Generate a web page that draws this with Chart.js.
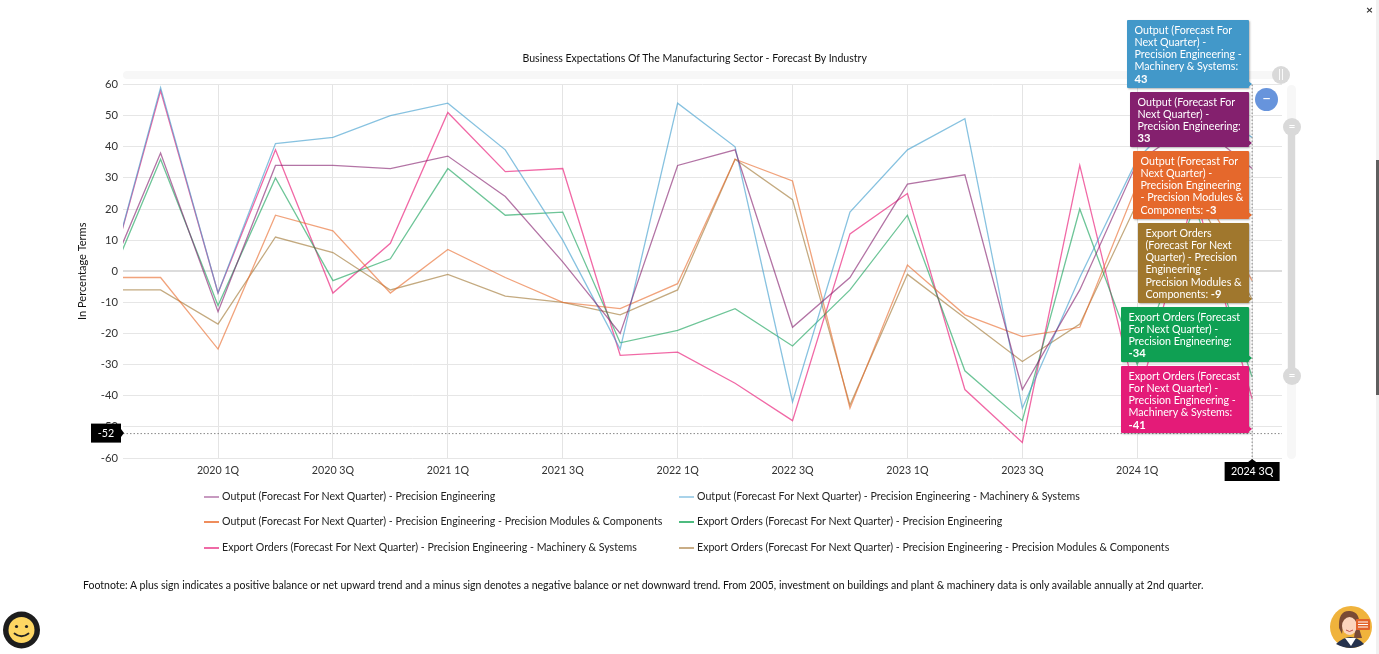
<!DOCTYPE html>
<html><head><meta charset="utf-8">
<script src="https://cdn.jsdelivr.net/npm/chart.js@4/dist/chart.umd.min.js"></script>
<style>
html,body{margin:0;padding:0;background:#fff;width:1379px;height:654px;overflow:hidden;font-family:Lato,sans-serif;color:#222}
#c{position:absolute;left:0;top:0}
.t{position:absolute;white-space:nowrap;font-size:10.6px}
.lg{position:absolute;height:1.5px;width:15px}
.tip{position:absolute;color:#fff;font-size:10.7px;line-height:12.25px;padding:3.5px 0 0 7.5px;box-sizing:border-box;box-shadow:1px 1px 2px rgba(0,0,0,.3);white-space:pre;border-radius:1px}
.tip b{font-weight:700;font-size:11.2px}
.tip i{position:absolute;bottom:0;right:-3px;width:0;height:0;border-left:5px solid;border-top:4px solid transparent;border-bottom:4px solid transparent}
.bar{position:absolute;background:#f7f7f7;border-radius:5px}
.grip{position:absolute;background:#d9d9d9;border-radius:50%;width:18px;height:18px;color:#fff;font-size:12px;line-height:16px;text-align:center}
</style></head><body>
<canvas id="c" width="1379" height="654"></canvas>
<div class="t" id="title" style="left:522.5px;top:51.5px;font-size:10.55px;color:#111"></div>
<div class="bar" style="left:123px;top:71px;width:1155px;height:8px"></div>
<div class="grip" style="left:1272px;top:66px">||</div>
<div class="bar" style="left:1287px;top:85px;width:9px;height:374px"></div>
<div style="position:absolute;left:1288px;top:127px;width:7px;height:249px;background:#d9d9d9"></div>
<div class="grip" style="left:1283px;top:118px">=</div>
<div class="grip" style="left:1283px;top:367px">=</div>
<div style="position:absolute;left:1255px;top:88px;width:23px;height:23px;border-radius:50%;background:#6794dc;color:#fff;font-size:15px;line-height:21px;text-align:center">&#8722;</div>
<div class="t" style="left:1366px;top:2px;font-size:12px;font-weight:700;color:#333">&#215;</div>
<div style="position:absolute;left:1376px;top:0;width:3px;height:654px;background:#f1f1f1"></div>
<div style="position:absolute;left:1376px;top:160px;width:3px;height:235px;background:#5f5f5f"></div>
<div class="t" id="foot" style="left:83px;top:578.5px;font-size:10.53px;color:#111"></div>
<div id="legend"></div><div id="tips"></div>
<svg style="position:absolute;left:0;top:608px" width="44" height="44" viewBox="0 0 44 44">
<circle cx="21.5" cy="22" r="18.5" fill="#1d1d1d"/><circle cx="21.5" cy="22" r="13" fill="#fdd663"/>
<circle cx="16.5" cy="18.5" r="1.6" fill="#222"/><circle cx="26.5" cy="18.5" r="1.6" fill="#222"/>
<path d="M14.5 25.5 Q21.5 31 28.5 25.5" stroke="#222" stroke-width="1.8" fill="none" stroke-linecap="round"/></svg>
<svg style="position:absolute;left:1328px;top:604px" width="46" height="46" viewBox="0 0 46 46">
<circle cx="23" cy="23" r="21" fill="#f0b33c"/><path d="M8 40 Q23 26 36 40 Q23 48 8 40Z" fill="#26324d"/>
<path d="M17 34 L23 42 L28 34Z" fill="#fff"/><path d="M11 24 Q10 6 22 7 Q33 8 31 24 L34 34 L26 34 L28 18 Q20 18 16 16 L14 30Z" fill="#7a4a35"/>
<ellipse cx="21.5" cy="22" rx="7.5" ry="9" fill="#fbd5bd"/><path d="M18 26 Q21.5 29 25 26" stroke="#c0504d" fill="none"/>
<rect x="28" y="15" width="14" height="11" rx="1" fill="#e2632b"/><path d="M30 18h10M30 20.5h10M30 23h10" stroke="#fff" stroke-width="1"/></svg>
<script>
const quarters=["2019 3Q","2019 4Q","2020 1Q","2020 2Q","2020 3Q","2020 4Q","2021 1Q","2021 2Q","2021 3Q","2021 4Q","2022 1Q","2022 2Q","2022 3Q","2022 4Q","2023 1Q","2023 2Q","2023 3Q","2023 4Q","2024 1Q","2024 2Q","2024 3Q"];
const outputPE=[-6,38,-13,34,34,33,37,24,3,-20,34,39,-18,-2,28,31,-38,-6,35,48,33];
const outputMS=[-9,59,-7,41,43,50,54,39,10,-25,54,40,-42,19,39,49,-44,-2,36,55,43];
const outputPM=[-2,-2,-25,18,13,-7,7,-2,-10,-12,-4,36,29,-44,2,-14,-21,-18,28,30,-3];
const exportPE=[-8,36,-11,30,-3,4,33,18,19,-23,-19,-12,-24,-6,18,-32,-48,20,-30,21,-34];
const exportMS=[-9,58,-7,39,-7,9,51,32,33,-27,-26,-36,-48,12,25,-38,-55,34,-42,25,-41];
const exportPM=[-6,-6,-17,11,6,-6,-1,-8,-10,-14,-6,36,23,-43,-1,-15,-29,-17,22,25,-9];
const seriesNames=["Output (Forecast For Next Quarter) - Precision Engineering","Output (Forecast For Next Quarter) - Precision Engineering - Machinery & Systems","Output (Forecast For Next Quarter) - Precision Engineering - Precision Modules & Components","Export Orders (Forecast For Next Quarter) - Precision Engineering","Export Orders (Forecast For Next Quarter) - Precision Engineering - Machinery & Systems","Export Orders (Forecast For Next Quarter) - Precision Engineering - Precision Modules & Components"];
const seriesValues=[outputPE,outputMS,outputPM,exportPE,exportMS,exportPM];
const lineColors=["rgba(132,30,110,.62)","rgba(62,156,205,.62)","rgba(233,106,44,.62)","rgba(13,159,84,.6)","rgba(233,27,120,.66)","rgba(160,118,50,.62)"];
const legendColors=["#c79ac0","#a9d3ea","#ef8d5c","#4dbb7f","#ef6aa6","#c9ad86"];
const tipColors=["#84206e","#4298c9","#e5682c","#0fa053","#e41b78","#a0772d"];
const tickIdx=[2,4,6,8,10,12,14,16,18,20];
const yTicks=[60,50,40,30,20,10,0,-10,-20,-30,-40,-50,-60];
const titleText="Business Expectations Of The Manufacturing Sector - Forecast By Industry";
const footText="Footnote: A plus sign indicates a positive balance or net upward trend and a minus sign denotes a negative balance or net downward trend. From 2005, investment on buildings and plant & machinery data is only available annually at 2nd quarter.";
const cursorY=-52, cursorX=20;

document.getElementById('title').textContent=titleText;
document.getElementById('foot').textContent=footText;

const lgPos=[[204,496],[679,496],[204,521],[679,521],[204,547],[679,547]];
const lg=document.getElementById('legend');
seriesNames.forEach((n,i)=>{
  const s=document.createElement('div');s.className='lg';s.style.cssText=`left:${lgPos[i][0]}px;top:${lgPos[i][1]}px;background:${legendColors[i]}`;lg.appendChild(s);
  const t=document.createElement('div');t.className='t';t.textContent=n;t.style.cssText=`left:${lgPos[i][0]+18}px;top:${lgPos[i][1]-6}px;font-size:10.62px;color:#222`;lg.appendChild(t);
});

const tipDefs=[[1,1127,20,122,68,"Output (Forecast For\nNext Quarter) -\nPrecision Engineering -\nMachinery & Systems:\n"],
[0,1130,92,119,55,"Output (Forecast For\nNext Quarter) -\nPrecision Engineering:\n"],
[2,1133,151,116,68,"Output (Forecast For\nNext Quarter) -\nPrecision Engineering\n- Precision Modules &\nComponents: "],
[5,1138,223,111,80,"Export Orders\n(Forecast For Next\nQuarter) - Precision\nEngineering -\nPrecision Modules &\nComponents: "],
[3,1121,307,128,55,"Export Orders (Forecast\nFor Next Quarter) -\nPrecision Engineering:\n"],
[4,1121,366,128,67,"Export Orders (Forecast\nFor Next Quarter) -\nPrecision Engineering -\nMachinery & Systems:\n"]];
const tips=document.getElementById('tips');
tipDefs.forEach(([k,x,y,w,h,txt])=>{
  const d=document.createElement('div');d.className='tip';
  d.style.cssText=`left:${x}px;top:${y}px;width:${w}px;height:${h}px;background:${tipColors[k]}`;
  d.append(txt);const b=document.createElement('b');b.textContent=seriesValues[k][seriesValues[k].length-1];d.append(b);
  const a=document.createElement('i');a.style.borderLeftColor=tipColors[k];d.append(a);tips.appendChild(d);
});

const cursorPlugin={id:'cursor',afterDraw(ch){
  const {ctx,chartArea:a,scales:{x,y}}=ch;const px=x.getPixelForValue(cursorX),py=y.getPixelForValue(cursorY);
  ctx.save();ctx.strokeStyle='#888';ctx.lineWidth=1;ctx.setLineDash([1.5,2]);
  ctx.beginPath();ctx.moveTo(a.left,py+.5);ctx.lineTo(a.right,py+.5);ctx.moveTo(px,a.top);ctx.lineTo(px,a.bottom+3);ctx.stroke();ctx.setLineDash([]);
  ctx.fillStyle='#000';ctx.fillRect(a.left-32,py-9.5,30,19);
  ctx.beginPath();ctx.moveTo(a.left-2,py-4);ctx.lineTo(a.left+1,py);ctx.lineTo(a.left-2,py+4);ctx.fill();
  ctx.fillRect(px-27.5,a.bottom+4,55,19);
  ctx.beginPath();ctx.moveTo(px-4,a.bottom+4);ctx.lineTo(px,a.bottom+1);ctx.lineTo(px+4,a.bottom+4);ctx.fill();
  ctx.fillStyle='#fff';ctx.font='10.7px Lato';ctx.textAlign='center';ctx.textBaseline='middle';
  ctx.fillText(String(cursorY),a.left-17,py+.5);ctx.fillText(quarters[cursorX],px,a.bottom+14);
  ctx.restore();
}};

new Chart(document.getElementById('c'),{
  type:'line',
  data:{datasets:seriesNames.map((n,i)=>({label:n,data:seriesValues[i].map((v,j)=>({x:j,y:v})),borderColor:lineColors[i],borderWidth:1.3,pointRadius:0,tension:0,fill:false}))},
  plugins:[cursorPlugin],
  options:{responsive:false,animation:false,devicePixelRatio:1,
    layout:{padding:{left:73,right:97,top:84.5,bottom:0}},
    plugins:{legend:{display:false},tooltip:{enabled:false}},
    scales:{
      x:{type:'linear',min:0.346,max:20.52,
        afterBuildTicks(s){s.ticks=tickIdx.map(v=>({value:v}));},
        afterFit(s){s.height=196;},
        grid:{color:'#e4e4e4',lineWidth:1,drawTicks:false},border:{display:false},
        ticks:{autoSkip:false,maxRotation:0,padding:6,color:'#333',font:{family:'Lato',size:10.7},callback:v=>quarters[v]}},
      y:{min:-60,max:60,
        afterBuildTicks(s){s.ticks=yTicks.map(v=>({value:v}));},
        afterFit(s){s.width=50;},
        title:{display:true,text:'In Percentage Terms',color:'#111',padding:{top:3,bottom:0},font:{family:'Lato',size:11}},
        grid:{color:c=>c.tick.value===0?'#dcdcdc':'#e6e6e6',lineWidth:c=>c.tick.value===0?2:1,drawTicks:false},border:{display:false},
        ticks:{padding:5,color:'#333',font:{family:'Lato',size:11.2},autoSkip:false}}
    }}
});
</script></body></html>
